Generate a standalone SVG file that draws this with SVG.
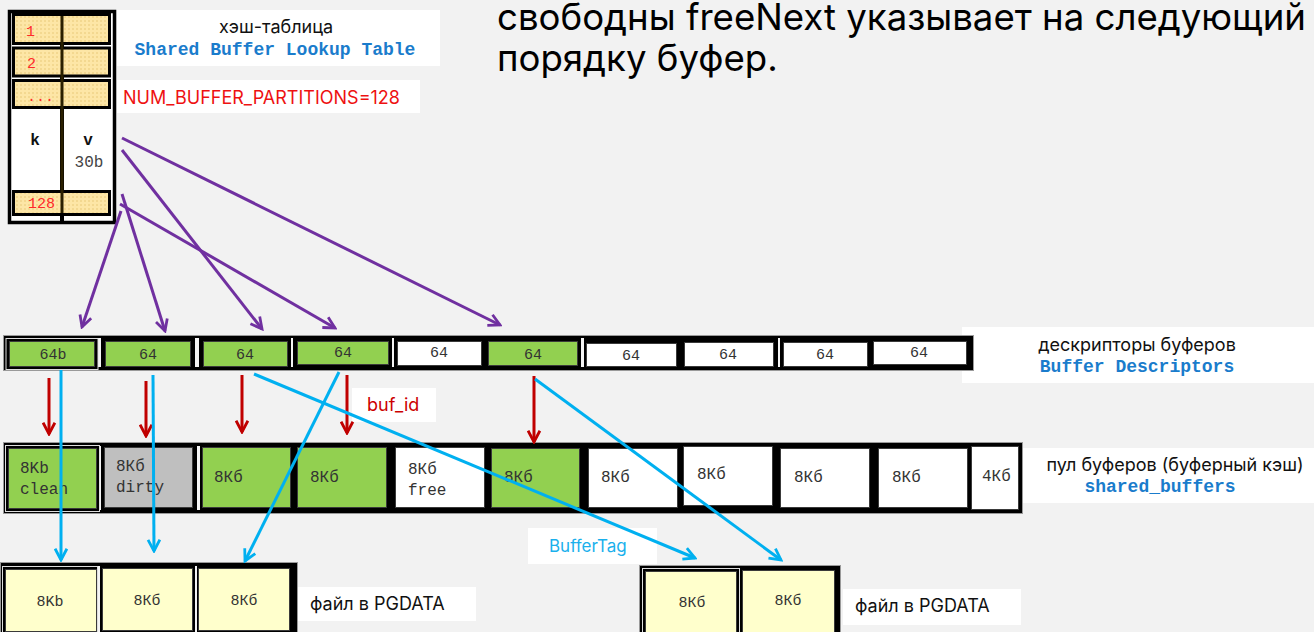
<svg xmlns="http://www.w3.org/2000/svg" width="1314" height="632" viewBox="0 0 1314 632">
  <style>
    .sans { font-family: Inter, "Noto Sans", "Liberation Sans", sans-serif; }
    .mono { font-family: "Liberation Mono", "DejaVu Sans Mono", monospace; }
    .lbl { font-size: 18px; fill: #111; }
    .code { font-size: 18px; font-weight: bold; fill: #1a7ccc; }
    .band { fill: #000; stroke: #9a9a9a; stroke-width: 1; }
    .cell { stroke: #3a3a3a; stroke-width: 1; }
    .green { fill: #92d050; }
    .white { fill: #ffffff; }
    .gray { fill: #bfbfbf; }
    .file { fill: #ffffcc; }
    .sep { fill: #f4f4f4; }
    .ctext { font-size: 15px; fill: #333; text-anchor: middle; }
    .ptext { font-size: 16px; fill: #333; }
    .box { fill: #ffffff; }
    .hrow { fill: url(#dots); stroke: #000; stroke-width: 3; }
    .red { fill: #ff2a2a; font-size: 15px; }
    .purple { stroke: #7030a0; stroke-width: 3; fill: none; marker-end: url(#ah-purple); }
    .blue { stroke: #00b0f0; stroke-width: 3; fill: none; marker-end: url(#ah-blue); }
    .redarrow { stroke: #c00000; stroke-width: 3; fill: none; marker-end: url(#ah-red); }
  </style>
  <defs>
    <pattern id="dots" width="4" height="4" patternUnits="userSpaceOnUse">
      <rect width="4" height="4" fill="#fde6a6"/>
      <circle cx="1" cy="1" r="0.7" fill="#e3bf6a"/>
    </pattern>
    <marker id="ah-purple" viewBox="0 0 14 14" refX="12" refY="7" markerWidth="15" markerHeight="15" markerUnits="userSpaceOnUse" orient="auto">
      <path d="M1.5,1.5 L12,7 L1.5,12.5" fill="none" stroke="#7030a0" stroke-width="2.6"/>
    </marker>
    <marker id="ah-blue" viewBox="0 0 14 14" refX="12" refY="7" markerWidth="15" markerHeight="15" markerUnits="userSpaceOnUse" orient="auto">
      <path d="M1.5,1.5 L12,7 L1.5,12.5" fill="none" stroke="#00b0f0" stroke-width="2.6"/>
    </marker>
    <marker id="ah-red" viewBox="0 0 14 14" refX="12" refY="7" markerWidth="15" markerHeight="15" markerUnits="userSpaceOnUse" orient="auto">
      <path d="M1.5,1.5 L12,7 L1.5,12.5" fill="none" stroke="#c00000" stroke-width="2.6"/>
    </marker>
  </defs>

  <rect width="1314" height="632" fill="#f2f2f2"/>

  <!-- heading text -->
  <g id="heading" class="sans" font-size="36.6" fill="#000">
    <text x="497" y="30">свободны freeNext указывает на следующий</text>
    <text x="497" y="71">порядку буфер.</text>
  </g>

  <!-- hash table -->
  <g id="hash-table">
    <rect x="9.5" y="11.5" width="105" height="211" fill="#fff" stroke="#000" stroke-width="3.5"/>
    <line x1="62" y1="11" x2="62" y2="223" stroke="#000" stroke-width="4"/>
    <rect class="hrow" x="13.5" y="14.5" width="96" height="29"/>
    <rect class="hrow" x="13.5" y="48" width="96" height="28"/>
    <rect class="hrow" x="13.5" y="80.5" width="96" height="27"/>
    <rect class="hrow" x="13.5" y="191.5" width="96" height="23"/>
    <line x1="62" y1="16" x2="62" y2="213" stroke="#2a2000" stroke-width="3"/>
    <text class="mono red" x="26" y="36">1</text>
    <text class="mono red" x="27" y="68">2</text>
    <text class="mono red" x="27" y="101">...</text>
    <text class="mono red" x="28" y="208">128</text>
    <text class="mono" x="35" y="145" font-size="16" font-weight="bold" text-anchor="middle" fill="#111">k</text>
    <text class="mono" x="88" y="145" font-size="16" font-weight="bold" text-anchor="middle" fill="#111">v</text>
    <text class="mono" x="89" y="167" font-size="16" text-anchor="middle" fill="#444">30b</text>
  </g>

  <g id="hash-label">
    <rect class="box" x="117" y="10" width="323" height="56"/>
    <text class="sans lbl" x="276" y="33" text-anchor="middle">хэш-таблица</text>
    <text class="mono code" x="275" y="55" text-anchor="middle">Shared Buffer Lookup Table</text>
  </g>

  <g id="partitions-label">
    <rect class="box" x="117" y="80" width="303" height="33"/>
    <text class="sans" x="123" y="104" font-size="18" fill="#ee1111">NUM_BUFFER_PARTITIONS=128</text>
  </g>

  <!-- buffer descriptors -->
  <g id="descriptors-label">
    <rect class="box" x="962" y="327" width="352" height="56"/>
    <text class="sans lbl" x="1137" y="351" text-anchor="middle">дескрипторы буферов</text>
    <text class="mono code" x="1137" y="372" text-anchor="middle">Buffer Descriptors</text>
  </g>

  <g id="descriptors">
    <rect class="band" x="3.5" y="335.5" width="970" height="35"/>
    <rect class="sep" x="98" y="338" width="3" height="29"/>
    <rect class="sep" x="195" y="338" width="4" height="29"/>
    <rect class="sep" x="291" y="338" width="2" height="29"/>
    <rect class="sep" x="392" y="338" width="2" height="29"/>
    <rect class="sep" x="581" y="338" width="3" height="29"/>
    <rect class="sep" x="778" y="338" width="2" height="29"/>
    <rect x="6" y="338.5" width="92" height="31" fill="none" stroke="#ddd" stroke-width="1"/>
    <rect class="cell green" x="9.5" y="341.5" width="85" height="25"/>
    <rect class="cell green" x="105.5" y="341.5" width="85" height="25"/>
    <rect class="cell green" x="203.5" y="341.5" width="84" height="25"/>
    <rect class="cell green" x="297.5" y="341.5" width="91" height="23"/>
    <rect class="cell white" x="397.5" y="341.5" width="84" height="24"/>
    <rect class="cell green" x="488.5" y="341.5" width="89" height="24"/>
    <rect class="cell white" x="586.5" y="343.5" width="90" height="23"/>
    <rect class="cell white" x="684.5" y="342.5" width="89" height="24"/>
    <rect class="cell white" x="783.5" y="342.5" width="84" height="24"/>
    <rect class="cell white" x="873.5" y="341.5" width="93" height="23"/>
    <g class="mono ctext">
      <text x="53" y="359">64b</text>
      <text x="148" y="359">64</text>
      <text x="245" y="359">64</text>
      <text x="343" y="357">64</text>
      <text x="439" y="357">64</text>
      <text x="533" y="359">64</text>
      <text x="631" y="360">64</text>
      <text x="728" y="359">64</text>
      <text x="825" y="359">64</text>
      <text x="919" y="357">64</text>
    </g>
  </g>

  <g id="buf-id-label">
    <rect class="box" x="352" y="388" width="84" height="34"/>
    <text class="sans" x="367" y="411" font-size="18" fill="#cc0000">buf_id</text>
  </g>

  <!-- shared buffers pool -->
  <g id="pool-label">
    <rect class="box" x="1022" y="448" width="292" height="55"/>
    <text class="sans lbl" x="1175" y="471" text-anchor="middle">пул буферов (буферный кэш)</text>
    <text class="mono code" x="1160" y="492" text-anchor="middle">shared_buffers</text>
  </g>

  <g id="pool">
    <rect class="band" x="3.5" y="442.5" width="1019" height="71"/>
    <rect class="sep" x="99" y="446" width="2" height="64"/>
    <rect class="sep" x="197" y="446" width="3" height="64"/>
    <rect x="5.5" y="445.5" width="94" height="66" fill="none" stroke="#ddd" stroke-width="1"/>
    <rect class="cell green" x="8.5" y="448.5" width="88" height="60"/>
    <rect class="cell gray" x="104.5" y="447.5" width="88" height="60"/>
    <rect class="cell green" x="202.5" y="447.5" width="88" height="60"/>
    <rect class="cell green" x="297.5" y="447.5" width="89" height="60"/>
    <rect class="cell white" x="395.5" y="447.5" width="89" height="60"/>
    <rect class="cell green" x="491.5" y="448.5" width="88" height="59"/>
    <rect class="cell white" x="588.5" y="448.5" width="89" height="59"/>
    <rect class="cell white" x="683.5" y="446.5" width="89" height="59"/>
    <rect class="cell white" x="780.5" y="448.5" width="89" height="59"/>
    <rect class="cell white" x="878.5" y="448.5" width="89" height="59"/>
    <rect class="cell white" x="971.5" y="446.5" width="47" height="63"/>
    <g class="mono ptext">
      <text x="20" y="473">8Kb</text>
      <text x="20" y="494">clean</text>
      <text x="116" y="471">8Кб</text>
      <text x="116" y="492">dirty</text>
      <text x="214" y="482">8Кб</text>
      <text x="310" y="482">8Кб</text>
      <text x="408" y="474">8Кб</text>
      <text x="408" y="495">free</text>
      <text x="504" y="482">8Кб</text>
      <text x="601" y="482">8Кб</text>
      <text x="697" y="479">8Кб</text>
      <text x="794" y="482">8Кб</text>
      <text x="892" y="482">8Кб</text>
      <text x="982" y="481">4Кб</text>
    </g>
  </g>

  <!-- data files -->
  <g id="file-1">
    <rect class="band" x="0.5" y="562.5" width="297" height="72"/>
    <rect class="sep" x="97" y="566" width="3" height="66"/>
    <rect class="sep" x="195" y="566" width="2" height="66"/>
    <rect x="2.5" y="566.5" width="95" height="68" fill="none" stroke="#ddd" stroke-width="1"/>
    <rect class="cell file" x="5.5" y="569.5" width="91" height="62"/>
    <rect class="cell file" x="102.5" y="568.5" width="90" height="62"/>
    <rect class="cell file" x="198.5" y="568.5" width="91" height="62"/>
    <g class="mono ctext">
      <text x="50" y="606">8Kb</text>
      <text x="147" y="605">8Кб</text>
      <text x="244" y="605">8Кб</text>
    </g>
  </g>
  <g id="file-1-label">
    <rect class="box" x="298" y="587" width="178" height="34"/>
    <text class="sans lbl" x="310" y="610">файл в PGDATA</text>
  </g>

  <g id="file-2">
    <rect class="band" x="639.5" y="565.5" width="201" height="69"/>
    <rect x="642.5" y="568.5" width="97" height="66" fill="none" stroke="#ddd" stroke-width="1"/>
    <rect class="cell file" x="645.5" y="571.5" width="91" height="62"/>
    <rect class="cell file" x="742.5" y="570.5" width="92" height="62"/>
    <g class="mono ctext">
      <text x="692" y="607">8Кб</text>
      <text x="788" y="605">8Кб</text>
    </g>
  </g>
  <g id="file-2-label">
    <rect class="box" x="843" y="589" width="178" height="36"/>
    <text class="sans lbl" x="855" y="612">файл в PGDATA</text>
  </g>

  <g id="buffertag-label">
    <rect class="box" x="528" y="528" width="129" height="36"/>
    <text class="sans" x="549" y="552" font-size="17" fill="#1ab0ec">BufferTag</text>
  </g>

  <!-- connectors -->
  <g id="connectors">
    <path class="purple" d="M122,138 L500,325"/>
    <path class="purple" d="M122,150 L262,329"/>
    <path class="purple" d="M122,194 L165,331"/>
    <path class="purple" d="M120,204 L335,328"/>
    <path class="purple" d="M121,211 L82,327"/>

    <path class="redarrow" d="M49,378 L49,434"/>
    <path class="redarrow" d="M146,381 L146,436"/>
    <path class="redarrow" d="M242,375 L242,432"/>
    <path class="redarrow" d="M347,375 L347,433"/>
    <path class="redarrow" d="M534,376 L534,442"/>

    <path class="blue" d="M61,370 L61,560"/>
    <path class="blue" d="M153,375 L154,551"/>
    <path class="blue" d="M339,372 L245,561"/>
    <path class="blue" d="M254,374 L695,558"/>
    <path class="blue" d="M535,379 L781,560"/>
  </g>
</svg>
